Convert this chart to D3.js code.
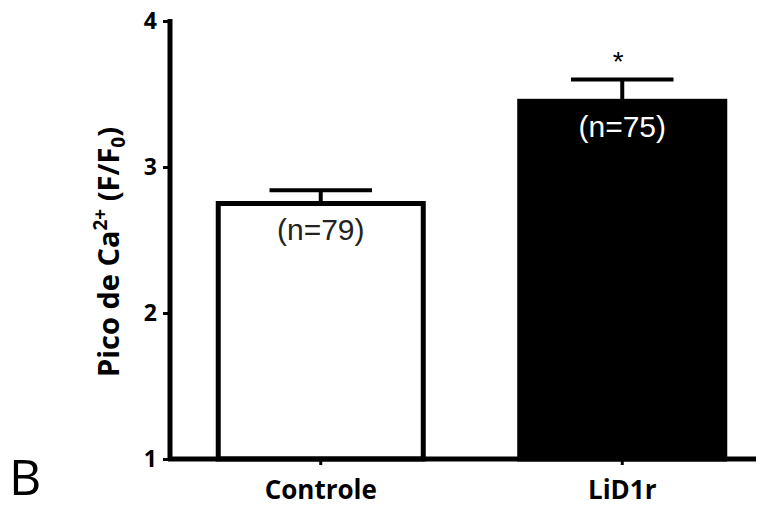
<!DOCTYPE html>
<html>
<head>
<meta charset="utf-8">
<script src="https://cdn.jsdelivr.net/npm/d3@7"></script>
<style>
  html, body { margin: 0; padding: 0; background: #fff; }
  svg { display: block; }
</style>
</head>
<body>
<svg id="chart" width="766" height="510"></svg>
<script>
// Peak calcium signal per group
const categories = ["Controle", "LiD1r"];
const means = [2.75, 3.45];
const sems = [0.09, 0.15];
const nLabels = ["(n=79)", "(n=75)"];
const fills = ["#ffffff", "#000000"];
const yTicks = [1, 2, 3, 4];

const svg = d3.select("#chart");

const y = d3.scaleLinear().domain([1, 4]).range([459, 21]);
const x = d3.scaleBand().domain(categories).range([170, 773])
  .paddingInner(0.32).paddingOuter(0.16);

const g = svg.append("g");

// Bars
g.selectAll("rect.bar").data(categories).join("rect")
  .attr("class", "bar")
  .attr("x", d => x(d))
  .attr("width", x.bandwidth())
  .attr("y", (d, i) => y(means[i]))
  .attr("height", (d, i) => y(1) - y(means[i]))
  .attr("fill", (d, i) => fills[i])
  .attr("stroke", "#000")
  .attr("stroke-width", 5);

// Error bars (upper only)
const capW = x.bandwidth() * 0.5;
categories.forEach((c, i) => {
  const cx = x(c) + x.bandwidth() / 2;
  g.append("line")
    .attr("x1", cx).attr("x2", cx)
    .attr("y1", y(means[i])).attr("y2", y(means[i] + sems[i]))
    .attr("stroke", "#000").attr("stroke-width", 4);
  g.append("line")
    .attr("x1", cx - capW / 2).attr("x2", cx + capW / 2)
    .attr("y1", y(means[i] + sems[i])).attr("y2", y(means[i] + sems[i]))
    .attr("stroke", "#000").attr("stroke-width", 4);
});

// n labels inside bars
g.selectAll("text.n").data(categories).join("text")
  .attr("class", "n")
  .attr("x", d => x(d) + x.bandwidth() / 2)
  .attr("y", (d, i) => y(means[i]) + 36)
  .attr("text-anchor", "middle")
  .attr("font-family", "Liberation Sans, Arial, sans-serif")
  .attr("font-size", 30)
  .attr("fill", (d, i) => i === 0 ? "#222" : "#fff")
  .text((d, i) => nLabels[i]);

// Significance marker
g.append("text")
  .attr("x", x("LiD1r") + x.bandwidth() / 2 - 4)
  .attr("y", y(means[1] + sems[1]) - 8)
  .attr("text-anchor", "middle")
  .attr("font-family", "Liberation Sans, Arial, sans-serif")
  .attr("font-size", 28)
  .attr("fill", "#000")
  .text("*");

// Y axis
const yAxis = g.append("g").attr("transform", "translate(170,0)")
  .call(d3.axisLeft(y).tickValues(yTicks).tickSize(7).tickPadding(6).tickFormat(d3.format("d")));
yAxis.select(".domain").attr("stroke-width", 5).attr("d", `M0,${y(4) - 2}V${y(1) + 2}`);
yAxis.selectAll(".tick line").attr("stroke-width", 3);
yAxis.selectAll(".tick text")
  .attr("font-family", "Open Sans, sans-serif")
  .attr("font-weight", "bold")
  .attr("font-size", 23)
  .attr("fill", "#000");

// X axis
const xAxis = g.append("g").attr("transform", `translate(0,${y(1)})`)
  .call(d3.axisBottom(x).tickSize(6).tickPadding(16));
xAxis.select(".domain").attr("stroke-width", 5).attr("d", "M168,0H756");
xAxis.selectAll(".tick line").attr("stroke-width", 3);
xAxis.selectAll(".tick text")
  .attr("font-family", "Open Sans, sans-serif")
  .attr("font-weight", "bold")
  .attr("font-size", 26)
  .attr("fill", "#000");

// Y axis title
const title = svg.append("text")
  .attr("transform", "translate(119,252) rotate(-90)")
  .attr("text-anchor", "middle")
  .attr("font-family", "Open Sans, sans-serif")
  .attr("font-weight", "bold")
  .attr("font-size", 29)
  .attr("fill", "#000");
title.append("tspan").text("Pico de Ca");
title.append("tspan").attr("dy", -12).attr("font-size", 19).text("2+");
title.append("tspan").attr("dy", 12).text(" (F/F");
title.append("tspan").attr("dy", 6).attr("font-size", 19).text("0");
title.append("tspan").attr("dy", -6).text(")");

// Panel letter
svg.append("text")
  .attr("x", 9).attr("y", 495)
  .attr("font-family", "Open Sans, sans-serif")
  .attr("font-size", 50)
  .attr("fill", "#000")
  .text("B");
</script>
</body>
</html>
